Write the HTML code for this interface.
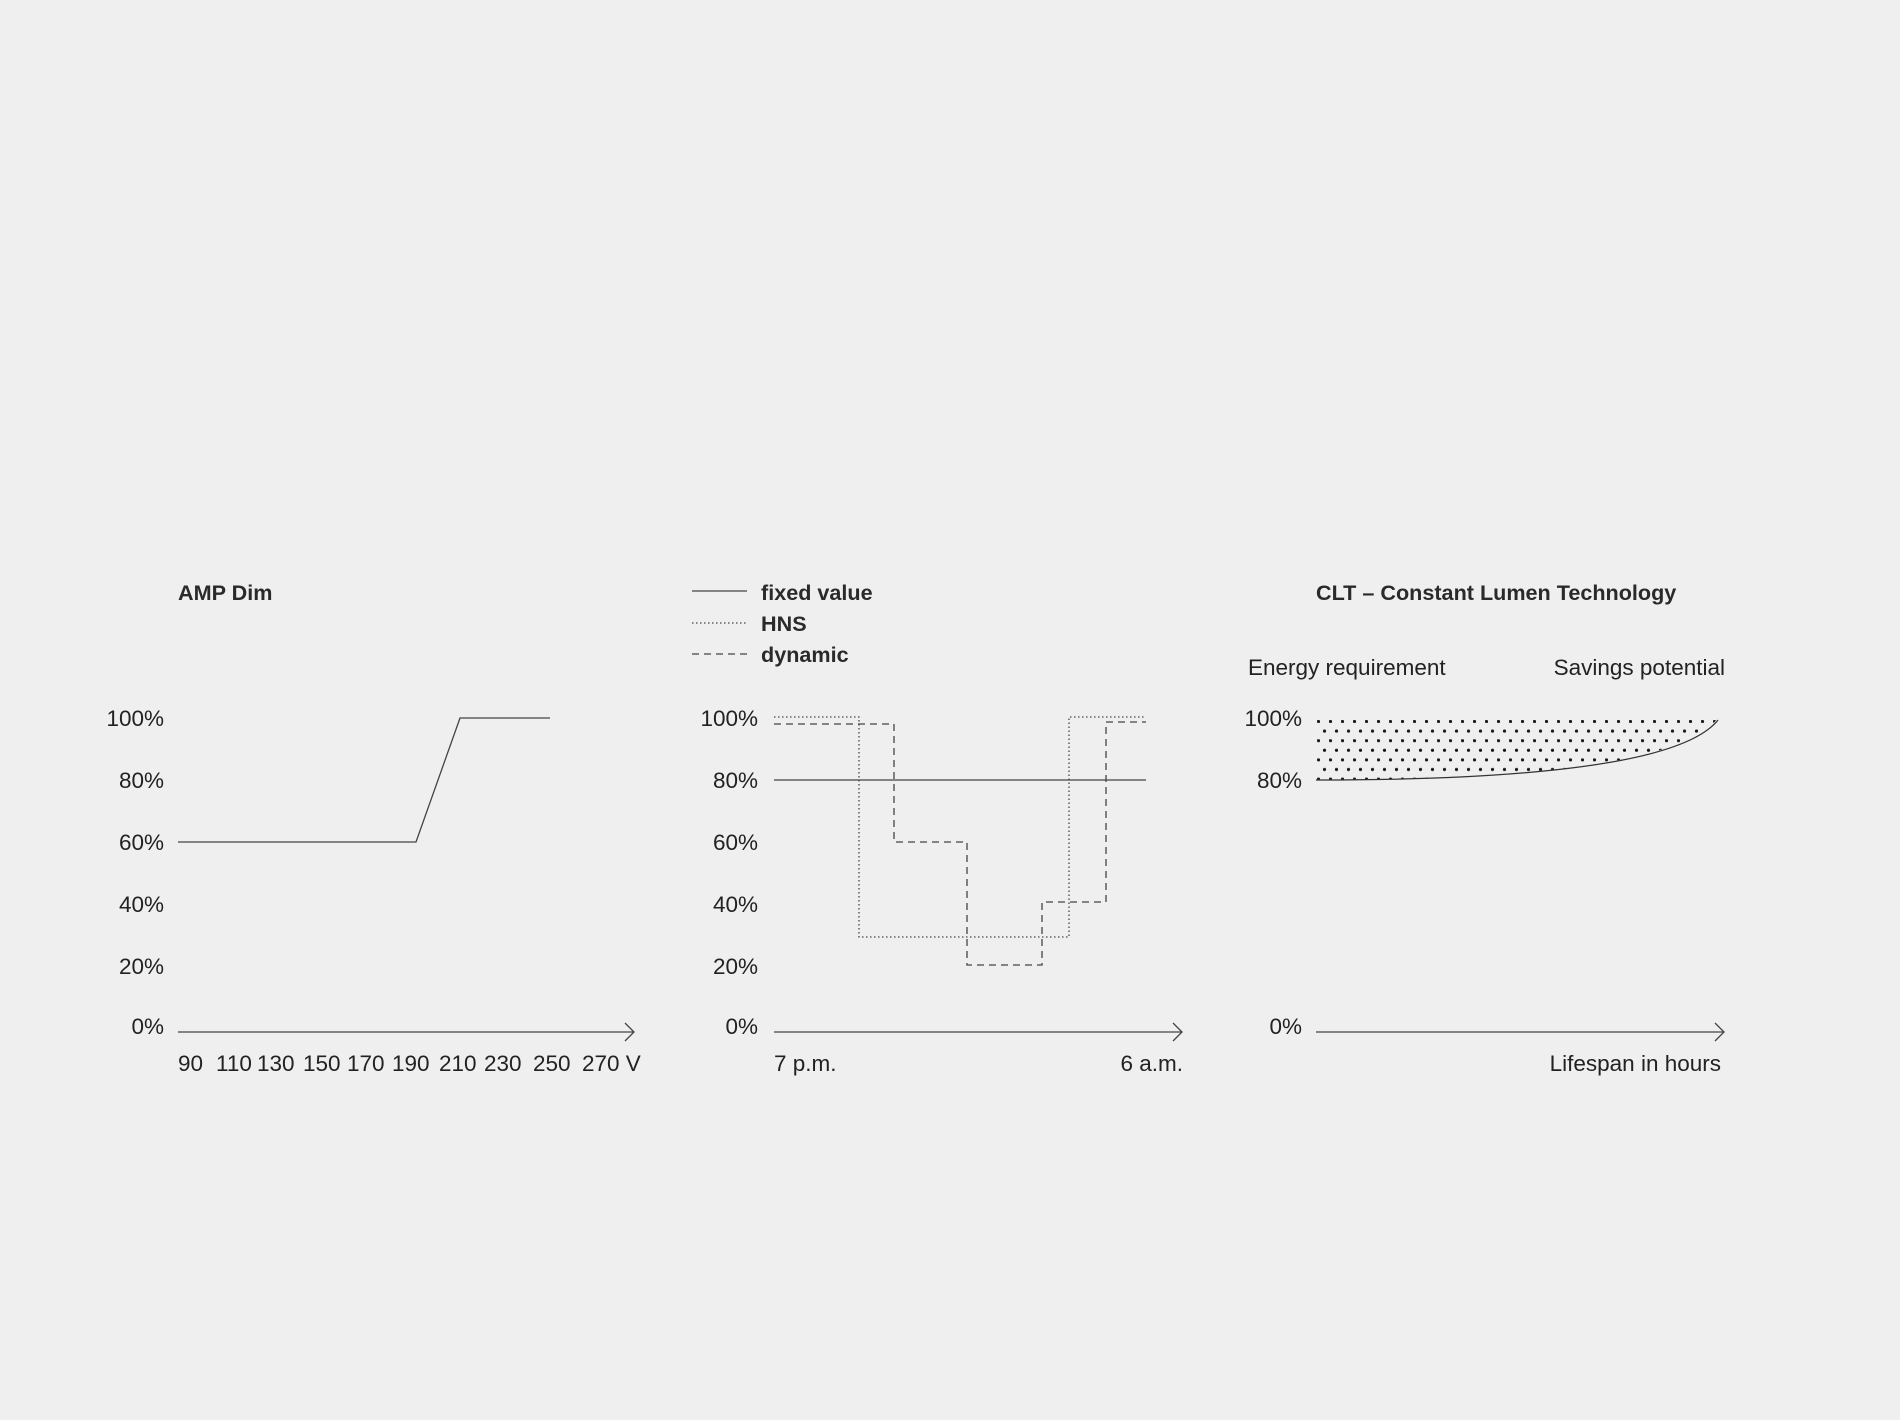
<!DOCTYPE html>
<html><head><meta charset="utf-8"><style>
html,body{margin:0;padding:0;background:#efefef;}
svg{display:block;}
text{font-family:"Liberation Sans",sans-serif;fill:#222;font-size:22.5px;}
.t{font-weight:bold;font-size:21.6px;fill:#2a2a2a;}
</style></head><body>
<svg width="1900" height="1420" viewBox="0 0 1900 1420" xmlns="http://www.w3.org/2000/svg">
<defs>
<pattern id="dots" x="1317" y="720" width="12" height="19.2" patternUnits="userSpaceOnUse">
<circle cx="1.5" cy="1.5" r="1.6" fill="#1a1a1a"/>
<circle cx="7.5" cy="11.1" r="1.6" fill="#1a1a1a"/>
</pattern>
<clipPath id="cl"><path d="M1316,718 L1718,718 Q1670,780 1316,780 Z"/></clipPath>
</defs>
<g stroke="#444" stroke-width="1.3" fill="none">
<line x1="178" y1="1032" x2="634" y2="1032"/>
<polyline points="625,1023 634,1032 625,1041"/>
<polyline points="178,842 416,842 460,718 550,718"/>
<line x1="774" y1="1032" x2="1182" y2="1032"/>
<polyline points="1173,1023 1182,1032 1173,1041"/>
<line x1="774" y1="780" x2="1146" y2="780"/>
<polyline points="774,717 859,717 859,937 1069,937 1069,717 1146,717" stroke-dasharray="1.5 2.5"/>
<polyline points="774,724 894,724 894,842 967,842 967,965 1042,965 1042,902 1106,902 1106,722 1146,722" stroke-dasharray="7 5"/>
<line x1="692" y1="591" x2="747" y2="591"/>
<line x1="692" y1="623" x2="747" y2="623" stroke-dasharray="1.5 2.5"/>
<line x1="692" y1="654" x2="747" y2="654" stroke-dasharray="7 5"/>
<line x1="1316" y1="1032" x2="1724" y2="1032"/>
<polyline points="1715,1023 1724,1032 1715,1041"/>
</g>
<rect x="1312" y="714" width="410" height="70" fill="url(#dots)" clip-path="url(#cl)"/>
<path d="M1316,780 Q1670,780 1718,720" stroke="#333" stroke-width="1.3" fill="none"/>
<text class="t" x="178" y="600">AMP Dim</text>
<g text-anchor="end">
<text x="164" y="726">100%</text><text x="164" y="788">80%</text><text x="164" y="850">60%</text>
<text x="164" y="912">40%</text><text x="164" y="974">20%</text><text x="164" y="1034">0%</text>
<text x="758" y="726">100%</text><text x="758" y="788">80%</text><text x="758" y="850">60%</text>
<text x="758" y="912">40%</text><text x="758" y="974">20%</text><text x="758" y="1034">0%</text>
<text x="1302" y="726">100%</text><text x="1302" y="788">80%</text><text x="1302" y="1034">0%</text>
</g>
<text x="178" y="1071">90</text><text x="216" y="1071">110</text><text x="257" y="1071">130</text>
<text x="303" y="1071">150</text><text x="347" y="1071">170</text><text x="392" y="1071">190</text>
<text x="439" y="1071">210</text><text x="484" y="1071">230</text><text x="533" y="1071">250</text>
<text x="582" y="1071">270 V</text>
<text class="t" x="761" y="600">fixed value</text>
<text class="t" x="761" y="631">HNS</text>
<text class="t" x="761" y="662">dynamic</text>
<text x="774" y="1071">7 p.m.</text>
<text x="1183" y="1071" text-anchor="end">6 a.m.</text>
<text class="t" x="1316" y="600">CLT – Constant Lumen Technology</text>
<text x="1248" y="675">Energy requirement</text>
<text x="1725" y="675" text-anchor="end">Savings potential</text>
<text x="1721" y="1071" text-anchor="end">Lifespan in hours</text>
</svg>
</body></html>
